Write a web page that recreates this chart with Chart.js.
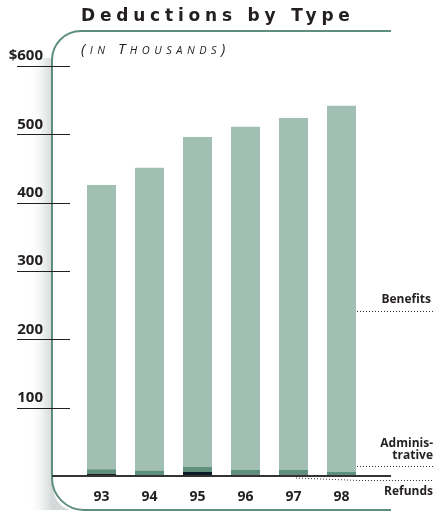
<!DOCTYPE html>
<html>
<head>
<meta charset="utf-8">
<script src="https://cdn.jsdelivr.net/npm/chart.js@4"></script>
<style>
  html, body { margin: 0; padding: 0; background: #fff; }
  #wrap { position: relative; width: 436px; height: 512px; }
  #title {
    position: absolute; left: 81px; top: 5px; white-space: nowrap;
    font: bold 17px "DejaVu Sans", sans-serif; letter-spacing: 4.8px; color: #231f20;
  }
  #sub {
    position: absolute; left: 81px; top: 38px; white-space: nowrap;
    font: italic 15px "Open Sans", sans-serif; font-variant: small-caps;
    letter-spacing: 4.5px; color: #231f20;
  }
</style>
</head>
<body>
<div id="wrap">
  <canvas id="chart" width="436" height="512"></canvas>
  <div id="title">Deductions by Type</div>
  <div id="sub">(in Thousands)</div>
</div>
<script>
// deductions per fiscal year, in thousands of dollars
const years          = ['93', '94', '95', '96', '97', '98'];
const refunds        = [3, 0, 6, 2, 2, 0];
const administrative = [7, 8, 7, 7, 7, 6];
const benefits       = [416, 443, 483, 502, 515, 536];
const yMax  = 600;
const yStep = 100;

const INK   = '#231f20';
const FRAME = '#5e8f7e';

// frame, shadow, tick rules and the right-hand key
const decor = {
  id: 'decor',
  beforeDraw(chart) {
    const ctx = chart.ctx;
    ctx.save();
    // soft shadow left of the axis
    const g = ctx.createLinearGradient(28, 0, 52, 0);
    g.addColorStop(0, 'rgba(255,255,255,0)');
    g.addColorStop(1, '#d3d8d8');
    ctx.fillStyle = g;
    ctx.beginPath();
    ctx.moveTo(28, 58);
    ctx.lineTo(52, 58);
    ctx.lineTo(52, 478);
    ctx.quadraticCurveTo(52, 505, 70, 510);
    ctx.lineTo(28, 510);
    ctx.closePath();
    ctx.fill();

    // rounded frame
    ctx.strokeStyle = FRAME;
    ctx.lineWidth = 2;
    ctx.beginPath();
    ctx.moveTo(391, 31);
    ctx.arcTo(52, 31, 52, 200, 29);
    ctx.arcTo(52, 510, 200, 510, 32);
    ctx.lineTo(391, 510);
    ctx.stroke();
    ctx.restore();
  },
  afterDraw(chart) {
    const ctx = chart.ctx;
    const y = chart.scales.y;
    ctx.save();
    // tick rules crossing the axis
    ctx.strokeStyle = INK;
    ctx.lineWidth = 1;
    for (let v = yStep; v <= yMax; v += yStep) {
      const py = Math.round(y.getPixelForValue(v)) + 0.5;
      ctx.beginPath();
      ctx.moveTo(17, py);
      ctx.lineTo(70, py);
      ctx.stroke();
    }
    // zero line
    const zy = y.getPixelForValue(0);
    ctx.strokeStyle = '#333';
    ctx.lineWidth = 2;
    ctx.beginPath();
    ctx.moveTo(52, zy);
    ctx.lineTo(391, zy);
    ctx.stroke();

    // key labels
    ctx.fillStyle = INK;
    ctx.font = 'bold 12px "Open Sans", sans-serif';
    ctx.textAlign = 'right';
    ctx.textBaseline = 'middle';
    ctx.fillText('Benefits', 431, 300);
    ctx.fillText('Adminis-', 433, 444);
    ctx.fillText('trative', 433, 456);
    ctx.fillText('Refunds', 433, 492);

    ctx.strokeStyle = '#333';
    ctx.lineWidth = 1;
    ctx.setLineDash([1, 2]);
    const dots = (pts) => {
      ctx.beginPath();
      ctx.moveTo(pts[0][0], pts[0][1]);
      pts.slice(1).forEach(p => ctx.lineTo(p[0], p[1]));
      ctx.stroke();
    };
    dots([[357, 311.5], [433, 311.5]]);
    dots([[357, 466.5], [433, 466.5]]);
    dots([[296, 478], [360, 480.5], [433, 480.5]]);
    ctx.restore();
  }
};

new Chart(document.getElementById('chart'), {
  type: 'bar',
  data: {
    labels: years,
    datasets: [
      { label: 'Refunds',        data: refunds,
        backgroundColor: [INK, INK, '#0b1c26', INK, INK, INK] },
      { label: 'Administrative', data: administrative, backgroundColor: '#5f8f7d' },
      { label: 'Benefits',       data: benefits,       backgroundColor: '#a2bfb3' },
    ],
  },
  options: {
    responsive: false,
    animation: false,
    layout: { padding: { top: 66, right: 70.5, bottom: 0, left: 0 } },
    plugins: { legend: { display: false }, tooltip: { enabled: false } },
    datasets: { bar: { categoryPercentage: 1, barPercentage: 29 / 48, borderWidth: 0 } },
    scales: {
      x: {
        stacked: true,
        grid: { display: false, drawTicks: false },
        border: { display: false },
        ticks: { color: INK, padding: 13, font: { family: 'Open Sans', size: 14, weight: 'bold' } },
        afterFit(scale) { scale.height = 36; },
      },
      y: {
        stacked: true,
        min: 0,
        max: yMax,
        // tick length only spaces the labels off the plot; the rules are drawn in decor
        grid: { display: false, drawTicks: true, tickLength: 34.5 },
        border: { display: false },
        ticks: {
          stepSize: yStep,
          color: INK,
          padding: 0,
          labelOffset: -10,
          font: { family: 'Open Sans', size: 15, weight: 'bold' },
          callback: v => v === 0 ? '' : (v === yMax ? '$' + v : v),
        },
        afterFit(scale) { scale.width = 77.5; },
      },
    },
  },
  plugins: [decor],
});
</script>
</body>
</html>
